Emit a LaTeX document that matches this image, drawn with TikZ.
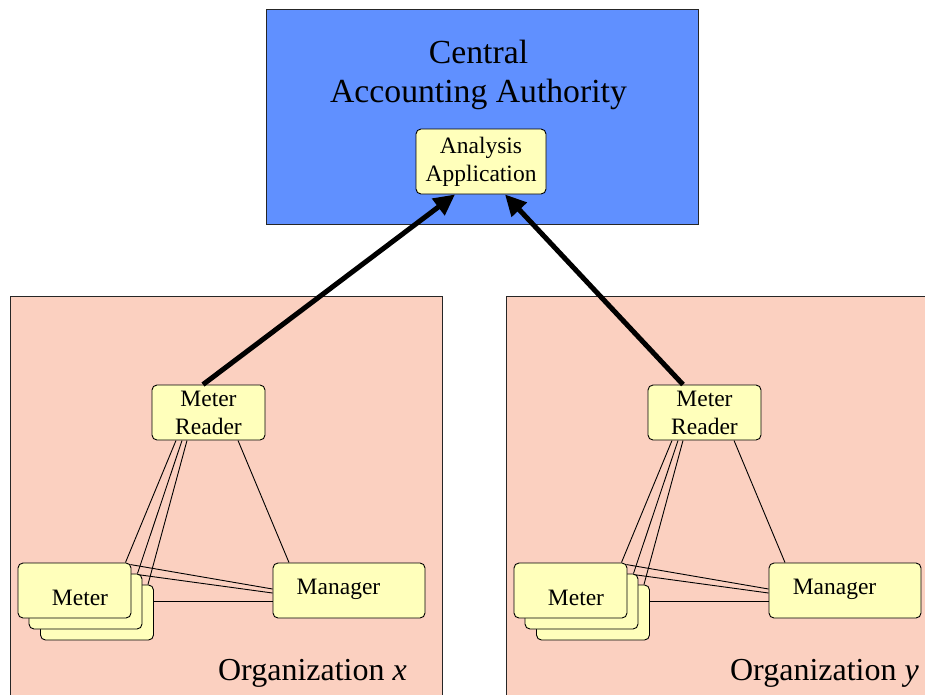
\documentclass[tikz,border=0pt]{standalone}
\usepackage{fontspec}
\setmainfont{Liberation Serif}
\usetikzlibrary{arrows.meta,calc}
\pgfdeclarelayer{bg}
\pgfdeclarelayer{wires}
\pgfsetlayers{bg,wires,main}
\definecolor{cablue}{RGB}{96,144,255}
\definecolor{orgfill}{RGB}{251,208,192}
\definecolor{boxfill}{RGB}{255,255,187}
\begin{document}
\begin{tikzpicture}[x=1pt,y=-1pt,
  region/.style={draw=black!85,line width=1.4pt,inner sep=0pt,anchor=north west},
  ybox/.style={draw=black,fill=boxfill,rounded corners=5pt,line width=0.9pt,inner sep=0pt,align=center,font=\fontsize{23.5}{28}\selectfont},
  wire/.style={line width=0.9pt},
  bigarrow/.style={line width=5pt,-{Triangle[length=21pt,width=20pt]}},
  txt/.style={font=\fontsize{23.5}{28}\selectfont,inner sep=0pt,anchor=base},
  bigtxt/.style={font=\fontsize{32}{39}\selectfont,inner sep=0pt}]
\useasboundingbox (0,0) rectangle (925,694);
\begin{pgfonlayer}{bg}
  \node[region,fill=cablue,minimum width=432pt,minimum height=215pt] (caa) at (266,9) {};
  \node[region,fill=orgfill,minimum width=432pt,minimum height=420pt] (orgx) at (10,296) {};
  \node[region,fill=orgfill,minimum width=432pt,minimum height=420pt] (orgy) at (506,296) {};
\end{pgfonlayer}
\node[bigtxt,align=center,font=\fontsize{33.7}{39}\selectfont] (caat) at (478.5,75) {Central\\Accounting Authority};
\node[ybox,minimum width=130pt,minimum height=65pt] (ana) at (481,161.5) {Analysis\\Application};
\foreach \s/\dx in {x/0,y/496}{
  \node[ybox,minimum width=113pt,minimum height=55pt] (mr\s) at (208.5+\dx,412.5) {Meter\\Reader};
  \node[ybox,minimum width=113pt,minimum height=55pt] (m3\s) at (97+\dx,612.5) {};
  \node[ybox,minimum width=113pt,minimum height=55pt] (m2\s) at (85.5+\dx,601.5) {};
  \node[ybox,minimum width=113pt,minimum height=55pt] (m1\s) at (74.5+\dx,590.5) {};
  \node[txt] (mt\s) at (80+\dx,605) {Meter};
  \node[ybox,minimum width=152pt,minimum height=55pt] (mg\s) at (349+\dx,590.5) {};
  \node[txt] (mgt\s) at (338.5+\dx,594) {Manager};
  \begin{pgfonlayer}{wires}
    \draw[wire] ($(mr\s.south)+(-32.5,0)$) -- ($(m1\s.north east)+(-6,0)$);
    \draw[wire] ($(mr\s.south)+(-26.5,0)$) -- ($(m2\s.north east)+(-5,0)$);
    \draw[wire] ($(mr\s.south)+(-21.5,0)$) -- ($(m3\s.north east)+(-6,0)$);
    \draw[wire] ($(mr\s.south)+(29.5,0)$) -- ($(mg\s.north)+(-60,0)$);
    \draw[wire] ($(m1\s.north east)+(-1,2)$) -- ($(mg\s.west)+(0,-1.5)$);
    \draw[wire] ($(m2\s.north east)+(-5,1)$) -- ($(mg\s.west)+(0,2.5)$);
    \draw[wire] ($(m3\s.east)+(0,-11.5)$) -- ($(mg\s.west)+(0,10.5)$);
  \end{pgfonlayer}
}
\node[bigtxt,anchor=base east] (olx) at (407,680) {Organization \textit{x}};
\node[bigtxt,anchor=base east] (oly) at (919,680) {Organization \textit{y}};
\draw[bigarrow] ($(mrx.north)+(-5.5,0)$) -- ($(ana.south)+(-26,0)$);
\draw[bigarrow] ($(mry.north)+(-21.5,0)$) -- ($(ana.south)+(24,0)$);
\end{tikzpicture}
\end{document}
